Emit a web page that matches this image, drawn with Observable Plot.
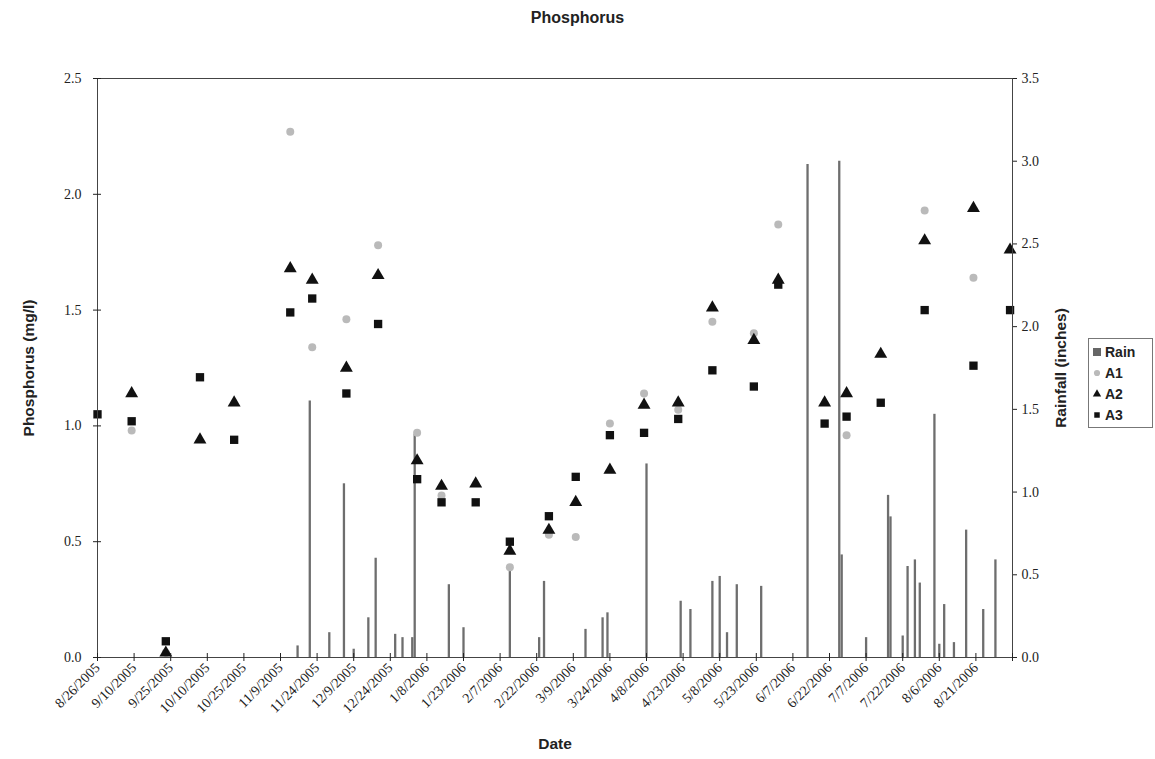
<!DOCTYPE html>
<html>
<head>
<meta charset="utf-8">
<script src="https://cdn.jsdelivr.net/npm/d3@7"></script>
<script src="https://cdn.jsdelivr.net/npm/@observablehq/plot@0.6"></script>
<style>
  body { margin: 0; background: #fff; }
  #wrap { position: relative; width: 1155px; height: 759px; overflow: hidden; }
  #title { position: absolute; left: 0; top: 9px; width: 1155px; text-align: center;
           font: bold 16px "Liberation Sans", Arial, sans-serif; color: #222; }
  #chart { position: absolute; left: 0; top: 35px; }
  #legend { position: absolute; left: 1088px; top: 338px; width: 60px; border: 1px solid #777;
            padding: 2px 0 2px 3px; font: bold 14px "Liberation Sans", Arial, sans-serif; color: #222; }
  #legend div { display: flex; align-items: center; height: 21px; }
  #legend svg { margin-right: 3px; }
  g[aria-label="x-axis label"] text, g[aria-label="y-axis label"] text {
    font-family: "Liberation Sans", Arial, sans-serif; font-weight: bold; font-size: 15.5px;
  }
</style>
</head>
<body>
<div id="wrap">
  <div id="title">Phosphorus</div>
  <div id="chart"></div>
  <div id="legend"></div>
</div>
<script>
// Sampling dates and phosphorus concentrations (mg/l) at the three stations
const sampleDates = ["8/26/2005","9/9/2005","9/23/2005","10/7/2005","10/21/2005","11/13/2005","11/22/2005",
  "12/6/2005","12/19/2005","1/4/2006","1/14/2006","1/28/2006","2/11/2006","2/27/2006","3/10/2006",
  "3/24/2006","4/7/2006","4/21/2006","5/5/2006","5/22/2006","6/1/2006","6/20/2006","6/29/2006",
  "7/13/2006","7/31/2006","8/20/2006","9/4/2006"];
const a1 = [null,0.98,0.02,null,null,2.27,1.34,1.46,1.78,0.97,0.70,null,0.39,0.53,0.52,
  1.01,1.14,1.07,1.45,1.40,1.87,null,0.96,null,1.93,1.64,null];
const a2 = [null,1.14,0.02,0.94,1.10,1.68,1.63,1.25,1.65,0.85,0.74,0.75,0.46,0.55,0.67,
  0.81,1.09,1.10,1.51,1.37,1.63,1.10,1.14,1.31,1.80,1.94,1.76];
const a3 = [1.05,1.02,0.07,1.21,0.94,1.49,1.55,1.14,1.44,0.77,0.67,0.67,0.50,0.61,0.78,
  0.96,0.97,1.03,1.24,1.17,1.61,1.01,1.04,1.10,1.50,1.26,1.50];

// Daily rainfall (inches)
const rainDates = ["11/16/2005","11/21/2005","11/29/2005","12/5/2005","12/9/2005","12/15/2005","12/18/2005",
  "12/26/2005","12/29/2005","1/2/2006","1/3/2006","1/17/2006","1/23/2006","2/11/2006","2/23/2006",
  "2/25/2006","3/14/2006","3/21/2006","3/23/2006","4/8/2006","4/22/2006","4/26/2006","5/5/2006",
  "5/8/2006","5/11/2006","5/15/2006","5/25/2006","6/13/2006","6/26/2006","6/27/2006","7/7/2006",
  "7/16/2006","7/17/2006","7/22/2006","7/24/2006","7/27/2006","7/29/2006","8/4/2006","8/6/2006",
  "8/8/2006","8/12/2006","8/17/2006","8/24/2006","8/29/2006"];
const rainInches = [0.07,1.55,0.15,1.05,0.05,0.24,0.60,
  0.14,0.12,0.12,1.35,0.44,0.18,0.54,0.12,
  0.46,0.17,0.24,0.27,1.17,0.34,0.29,0.46,
  0.49,0.15,0.44,0.43,2.98,3.00,0.62,0.12,
  0.98,0.85,0.13,0.55,0.59,0.45,1.47,0.08,
  0.32,0.09,0.77,0.29,0.59];

// Axis ticks
const xTickLabels = ["8/26/2005","9/10/2005","9/25/2005","10/10/2005","10/25/2005","11/9/2005","11/24/2005",
  "12/9/2005","12/24/2005","1/8/2006","1/23/2006","2/7/2006","2/22/2006","3/9/2006","3/24/2006",
  "4/8/2006","4/23/2006","5/8/2006","5/23/2006","6/7/2006","6/22/2006","7/7/2006","7/22/2006",
  "8/6/2006","8/21/2006"];
const xEnd = "9/5/2006";
const phosTicks = [0, 0.5, 1.0, 1.5, 2.0, 2.5];
const rainTicks = [0, 0.5, 1.0, 1.5, 2.0, 2.5, 3.0, 3.5];

const parse = s => { const [m, d, y] = s.split("/").map(Number); return new Date(Date.UTC(y, m - 1, d)); };
const phosMax = 2.5, rainMax = 3.5;
const k = phosMax / rainMax; // rainfall drawn against the phosphorus scale

const samples = sampleDates.map((s, i) => ({date: parse(s), a1: a1[i], a2: a2[i], a3: a3[i]}));
const rain = rainDates.map((s, i) => ({date: parse(s), inches: rainInches[i]}));

const labelByTime = new Map(xTickLabels.map(s => [parse(s).getTime(), s]));
const xTicks = [...xTickLabels, xEnd].map(parse);
const fmt = d3.format(".1f");
const blank = () => "";

const chart = Plot.plot({
  width: 1155,
  height: 724,
  marginTop: 43,
  marginBottom: 102,
  marginLeft: 97,
  marginRight: 143,
  style: {fontFamily: "'Liberation Serif', 'Times New Roman', serif", fontSize: "14px", color: "#222", background: "transparent"},
  x: {type: "utc", domain: [parse(xTickLabels[0]), parse(xEnd)]},
  y: {domain: [0, phosMax]},
  marks: [
    Plot.ruleX(rain, {x: "date", y1: 0, y2: d => d.inches * k, stroke: "#6e6e6e", strokeWidth: 2.3}),
    Plot.dot(samples.filter(d => d.a1 != null), {x: "date", y: "a1", r: 4, fill: "#bababa", symbol: "circle"}),
    Plot.dot(samples.filter(d => d.a2 != null), {x: "date", y: "a2", r: 4.8, fill: "#111", symbol: "triangle"}),
    Plot.dot(samples.filter(d => d.a3 != null), {x: "date", y: "a3", r: 4.7, fill: "#111", symbol: "square"}),
    Plot.frame({stroke: "#444"}),
    Plot.axisX({ticks: xTicks, tickFormat: d => labelByTime.get(d.getTime()) ?? "", tickRotate: -45,
      tickSize: 4, tickPadding: 4, label: "Date", labelAnchor: "center", labelOffset: 91, labelArrow: false}),
    Plot.axisX({ticks: xTicks, tickFormat: blank, tickSize: -4, label: null}),
    Plot.axisY({anchor: "left", ticks: phosTicks, tickFormat: fmt, tickSize: 4, tickPadding: 12,
      label: "Phosphorus (mg/l)", labelAnchor: "center", labelOffset: 75, labelArrow: false}),
    Plot.axisY({anchor: "left", ticks: phosTicks, tickFormat: blank, tickSize: -4, label: null}),
    Plot.axisY({anchor: "right", ticks: rainTicks.map(t => t * k), tickFormat: d => fmt(d / k), tickSize: 4, tickPadding: 5,
      label: "Rainfall (inches)", labelAnchor: "center", labelOffset: 53, labelArrow: false})
  ]
});
document.getElementById("chart").append(chart);

// Legend
const legendItems = [
  {name: "Rain", shape: "rect", color: "#666"},
  {name: "A1", shape: "circle", color: "#bababa"},
  {name: "A2", shape: "triangle", color: "#111"},
  {name: "A3", shape: "square", color: "#111"}
];
const legend = d3.select("#legend");
for (const it of legendItems) {
  const row = legend.append("div");
  const svg = row.append("svg").attr("width", 10).attr("height", 10);
  if (it.shape === "rect") svg.append("rect").attr("x", 1).attr("y", 1).attr("width", 8).attr("height", 8).attr("fill", it.color);
  else svg.append("path").attr("transform", "translate(5,5)").attr("fill", it.color)
    .attr("d", d3.symbol(it.shape === "circle" ? d3.symbolCircle : it.shape === "triangle" ? d3.symbolTriangle : d3.symbolSquare, 30)());
  row.append("span").text(it.name);
}
</script>
</body>
</html>
